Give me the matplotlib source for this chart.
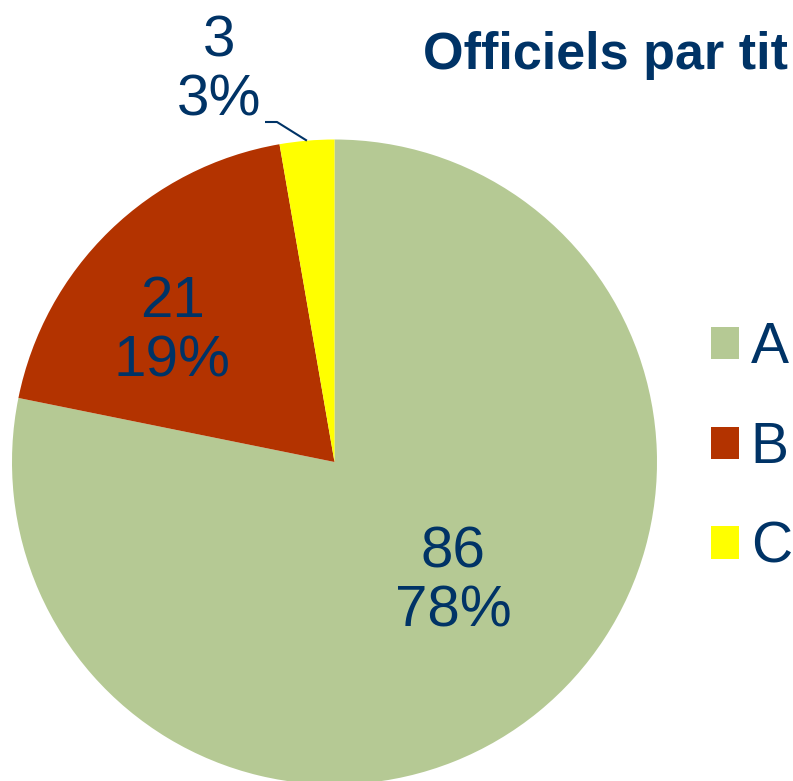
import matplotlib
matplotlib.use("Agg")
import matplotlib.pyplot as plt
import numpy as np

# data
categories = ["A", "B", "C"]
counts = [86, 21, 3]
percents = ["78%", "19%", "3%"]
colors = ["#B5C994", "#B33300", "#FFFF00"]
title = "Officiels par tit"

NAVY = "#003366"
plt.rcParams["font.family"] = ["Liberation Sans", "DejaVu Sans"]

W, H = 793, 781
fig = plt.figure(figsize=(W / 100, H / 100), dpi=100)
ax = fig.add_axes([0, 0, 1, 1])

# pie geometry in pixel units (y up)
cx, cy, R = 334.5, H - 462, 322.5
wedges, _ = ax.pie(counts, colors=colors, startangle=90, counterclock=False,
                   center=(cx, cy), radius=R,
                   wedgeprops=dict(linewidth=0))
ax.set_xlim(0, W)
ax.set_ylim(0, H)
ax.set_aspect("auto")
ax.axis("off")

# data labels: (angle deg, distance as fraction of radius)
label_pos = [(-45.4, 0.523), (141.3, 0.645), (106.5, 1.265)]
for w, n, p, (ang, d) in zip(wedges, counts, percents, label_pos):
    a = np.deg2rad(ang)
    ax.text(cx + d * R * np.cos(a), cy + d * R * np.sin(a), f"{n}\n{p}",
            ha="center", va="center", fontsize=42, color=NAVY,
            linespacing=1.12)

# leader line for the small slice
wc = wedges[2]
mid = np.deg2rad((wc.theta1 + wc.theta2) / 2)
ex, ey = cx + R * np.cos(mid), cy + R * np.sin(mid)
ax.plot([265, 277, ex], [H - 122, H - 122, ey], color=NAVY, lw=1.5,
        solid_capstyle="butt")

fig.text(423 / W, 1 - 69 / H, title, ha="left", va="baseline",
         fontsize=37.5, fontweight="bold", color=NAVY)

ax.legend(wedges, categories, loc="center left",
          bbox_to_anchor=(711 / W, 1 - 448 / H), frameon=False,
          fontsize=41, labelcolor=NAVY, handlelength=0.5, handleheight=0.5,
          handletextpad=0.2, labelspacing=0.8, borderpad=0, borderaxespad=0)

fig.savefig("out.png", dpi=100)
